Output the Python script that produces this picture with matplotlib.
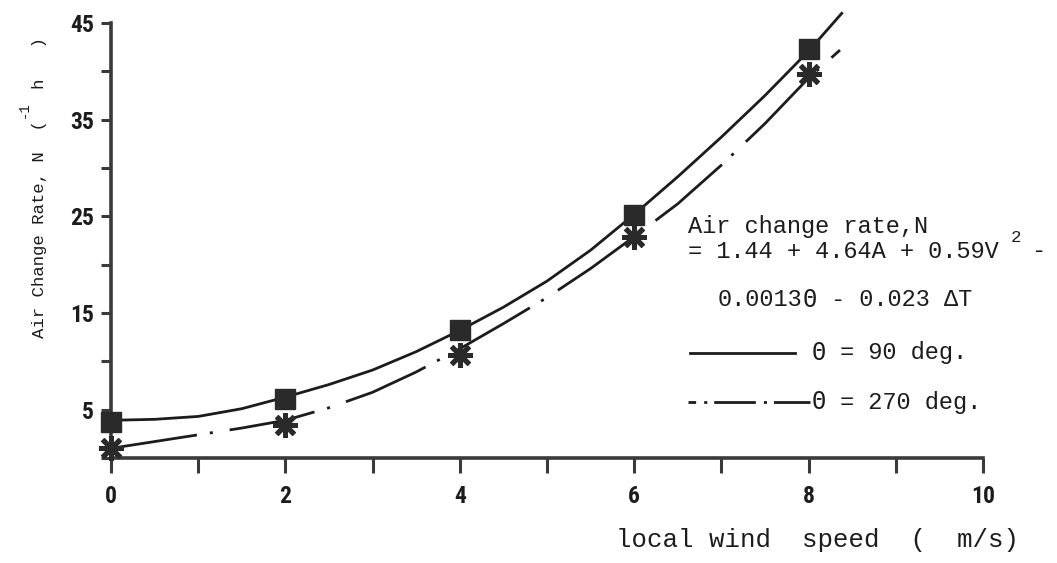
import matplotlib
matplotlib.use('Agg')
import matplotlib.pyplot as plt
from matplotlib.lines import Line2D

plt.rcParams['lines.scale_dashes'] = False

# ---------------- data ----------------
x_ticks = [0, 2, 4, 6, 8, 10]
x_tick_labels = ['0', '2', '4', '6', '8', '10']
x_minor = [1, 3, 5, 7, 9]
y_ticks = [5, 15, 25, 35, 45]
y_tick_labels = ['5', '15', '25', '35', '45']
y_minor = [0, 10, 20, 30, 40]

# measured points
v_meas = [0, 2, 4, 6, 8]
n90_meas = [3.7, 6.1, 13.2, 25.1, 42.3]     # theta = 90 deg (squares)
n270_meas = [1.0, 3.4, 10.7, 22.9, 39.7]    # theta = 270 deg (asterisks)

# fitted curves as drawn
v90_curve = [0, 0.5, 1, 1.5, 2, 2.5, 3, 3.5, 4, 4.5, 5, 5.5, 6, 6.5, 7, 7.5, 8, 8.38]
n90_curve = [3.9, 4.0, 4.3, 5.1, 6.3, 7.6, 9.1, 11.0, 13.2, 15.6, 18.3, 21.5,
             25.2, 29.1, 33.2, 37.5, 42.1, 46.0]
v270_curve = [0, 0.5, 1, 1.5, 2, 2.5, 3, 3.5, 4, 4.5, 5, 5.5, 6, 6.5, 7, 7.5, 8, 8.36]
n270_curve = [1.0, 1.7, 2.4, 3.1, 3.9, 5.2, 6.8, 8.9, 11.3, 13.9, 16.6, 19.6,
              22.9, 26.3, 30.3, 34.6, 39.3, 42.2]

x_label = 'local wind  speed  (  m/s)'
y_label = 'Air Change Rate, N  (   h   )'
y_label_sup = '-1'
eq_line1 = 'Air change rate,N'
eq_line2 = '= 1.44 + 4.64A + 0.59V'
eq_line3 = '0.0013\u0398 - 0.023 \u0394T'
leg90 = '\u0398 = 90 deg.'
leg270 = '\u0398 = 270 deg.'

# ---------------- figure ----------------
W, H = 1057, 563
DPI = 100
fig = plt.figure(figsize=(W / DPI, H / DPI), dpi=DPI)
fig.patch.set_facecolor('white')


def fx(p):
    return p / W


def fy(p):
    return 1 - p / H


ink = '#1c1c1c'
axis_col = '#3a3a3a'
mono = ['Liberation Mono', 'DejaVu Sans Mono']
theta_font = ['DejaVu Sans Mono']
narrow = ['Liberation Sans Narrow', 'Roboto Condensed', 'DejaVu Sans Condensed',
          'DejaVu Sans']


def mono_text(x_px, y_px, s, size):
    """Monospace line; capital theta drawn in a font whose theta has a bar."""
    pitch = 0.6 * size * DPI / 72.0
    # split into runs of non-theta characters and single thetas
    runs = []
    start = 0
    for i, ch in enumerate(s):
        if ch == '\u0398':
            if i > start:
                runs.append((start, s[start:i], mono))
            runs.append((i, ch, theta_font))
            start = i + 1
    if start < len(s):
        runs.append((start, s[start:], mono))
    for idx, seg, fam in runs:
        stripped = seg.lstrip(' ')
        idx += len(seg) - len(stripped)
        if not stripped:
            continue
        fig.text(fx(x_px + idx * pitch), fy(y_px), stripped, fontsize=size,
                 family=fam, ha='left', va='center', color=ink)


ax = fig.add_axes([fx(111), fy(458), fx(983) - fx(111), fy(23) - fy(458)])
ax.set_xlim(0, 10)
ax.set_ylim(0, 45)
ax.set_facecolor('white')

ax.plot(v90_curve, n90_curve, color=ink, lw=2.0, clip_on=False, zorder=3)
ax.plot(v270_curve, n270_curve, color=ink, lw=2.0,
        ls=(0, (62.6, 9.4, 2.2, 12.2)), clip_on=False, zorder=3)
ax.plot(v_meas, n90_meas, ls='none', marker='s', ms=14.5,
        mfc='#2a2a2a', mec='#2a2a2a', clip_on=False, zorder=4)
ax.plot(v_meas, n270_meas, ls='none', marker=(8, 2, 0), ms=18, mew=3.6,
        mec='#2a2a2a', clip_on=False, zorder=4)

for s in ['top', 'right']:
    ax.spines[s].set_visible(False)
for s in ['left', 'bottom']:
    ax.spines[s].set_linewidth(2.6)
    ax.spines[s].set_color(axis_col)

ax.set_xticks(x_ticks)
ax.set_xticklabels(x_tick_labels)
ax.set_xticks(x_minor, minor=True)
ax.set_yticks(y_ticks)
ax.set_yticklabels(y_tick_labels)
ax.set_yticks(y_minor, minor=True)
ax.tick_params(axis='x', which='both', direction='out', length=10.5,
               width=2.2, color=axis_col, pad=9)
ax.tick_params(axis='y', which='both', direction='out', length=7,
               width=2.2, color=axis_col, pad=5)
for lab in ax.get_xticklabels() + ax.get_yticklabels():
    lab.set_fontfamily(narrow)
    lab.set_fontstretch('condensed')
    lab.set_fontweight('bold')
    lab.set_fontsize(17)
    lab.set_color(ink)

# axis labels
fig.text(fx(40), fy(188), y_label, rotation=90, fontsize=12.5, family=mono,
         ha='center', va='center', color=ink)
fig.text(fx(24), fy(110), y_label_sup, rotation=90, fontsize=10, family=mono,
         ha='center', va='center', color=ink)
fig.text(fx(817), fy(540), x_label, fontsize=18.5, family=mono,
         ha='center', va='center', color=ink)

# equation annotation
mono_text(688, 227, eq_line1, 17)
mono_text(688, 251, eq_line2, 17)
fig.text(fx(1011), fy(238), '2', fontsize=12.5, family=mono,
         ha='left', va='center', color=ink)
fig.text(fx(1031), fy(251), '-', fontsize=17, family=mono,
         ha='left', va='center', color=ink)
mono_text(718, 300, eq_line3, 17)

# legend
fig.add_artist(Line2D([fx(690), fx(795)], [fy(353), fy(353)],
                      transform=fig.transFigure, color=ink, lw=2.0))
fig.add_artist(Line2D([fx(688), fx(810)], [fy(402), fy(402)],
                      transform=fig.transFigure, color=ink, lw=2.0,
                      ls=(24.5, (30, 5.8, 2.2, 5))))
mono_text(812, 353, leg90, 17)
mono_text(812, 402, leg270, 17)

fig.savefig('out.png', dpi=DPI, facecolor='white')
